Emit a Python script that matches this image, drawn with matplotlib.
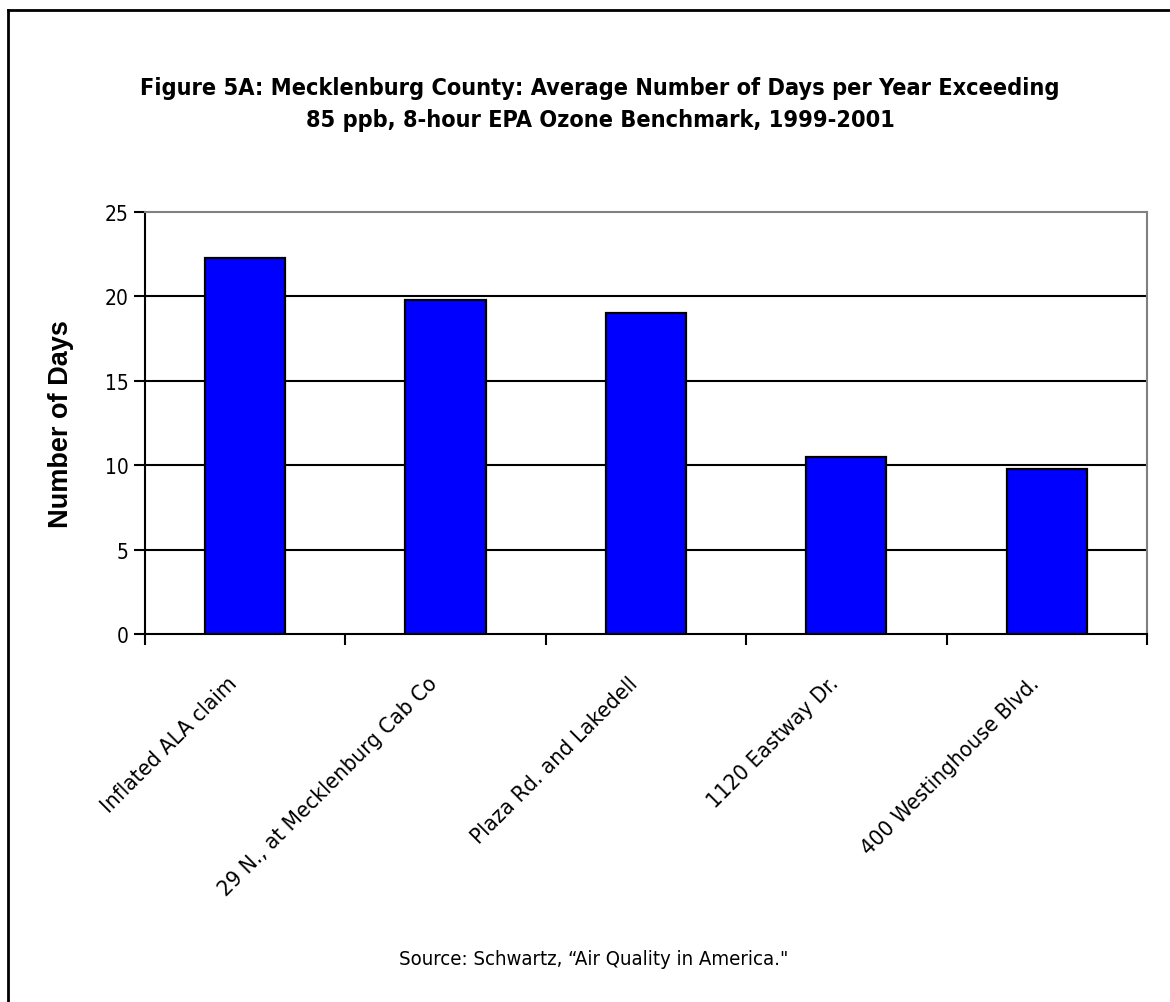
import numpy as np
import matplotlib.pyplot as plt
import matplotlib.transforms as mtransforms
from matplotlib.lines import Line2D

sites = ["Inflated ALA claim", "29 N., at Mecklenburg Cab Co", "Plaza Rd. and Lakedell",
         "1120 Eastway Dr.", "400 Westinghouse Blvd."]
days = [22.3, 19.8, 19.0, 10.5, 9.8]
yticks = [0, 5, 10, 15, 20, 25]

# condensed DejaVu stands in for the narrow Univers-like face of the original
COND = dict(family="DejaVu Sans", fontstretch="condensed")

fig = plt.figure(figsize=(11.70, 10.03), dpi=100)
ax = fig.add_axes([0.1239, 0.3669, 0.8564, 0.4207])

x = np.arange(len(sites))
ax.bar(x, days, width=0.4, color="#0000FF", edgecolor="black", linewidth=1.6, zorder=3)

ax.set_xlim(-0.5, len(sites) - 0.5)
ax.set_ylim(0, 25)
ax.set_yticks(yticks)
ax.set_yticklabels([str(v) for v in yticks], fontsize=15, **COND)
for v in yticks[1:-1]:
    ax.axhline(v, color="black", linewidth=1.5, zorder=1)

ax.set_xticks(x)
ax.set_xticklabels(sites, rotation=45, ha="right", va="top", rotation_mode="anchor",
                   fontsize=16, **COND)
ax.tick_params(axis="x", which="major", length=0, pad=28)
shift = mtransforms.ScaledTranslation(-18 / 100, 0, fig.dpi_scale_trans)
for lab in ax.get_xticklabels():
    lab.set_transform(lab.get_transform() + shift)
ax.set_xticks(np.arange(-0.5, len(sites)), minor=True)
ax.tick_params(axis="x", which="minor", length=8, width=1.5, direction="out")
ax.tick_params(axis="y", length=8, width=1.5, direction="out", pad=4)

for s in ["left", "bottom"]:
    ax.spines[s].set_color("black")
    ax.spines[s].set_linewidth(1.5)
for s in ["top", "right"]:
    ax.spines[s].set_color("#808080")
    ax.spines[s].set_linewidth(1.5)

ax.set_ylabel("Number of Days", family=["Liberation Sans", "DejaVu Sans"],
              fontweight="bold", fontsize=19.5, labelpad=22)

fig.text(0.513, 0.896, "Figure 5A: Mecklenburg County: Average Number of Days per Year Exceeding\n"
         "85 ppb, 8-hour EPA Ozone Benchmark, 1999-2001",
         ha="center", va="center", fontweight="bold", fontsize=16.8, linespacing=1.5, **COND)

fig.text(0.507, 0.043, "Source: Schwartz, \u201cAir Quality in America.\"",
         ha="center", va="center", fontsize=14.6, **COND)

# frame along top and left edges
fig.add_artist(Line2D([8 / 1170, 1.0], [1 - 11 / 1003, 1 - 11 / 1003],
                      transform=fig.transFigure, color="black", linewidth=2))
fig.add_artist(Line2D([8 / 1170, 8 / 1170], [0.0, 1 - 11 / 1003],
                      transform=fig.transFigure, color="black", linewidth=2))

fig.savefig("out.png", dpi=100)
